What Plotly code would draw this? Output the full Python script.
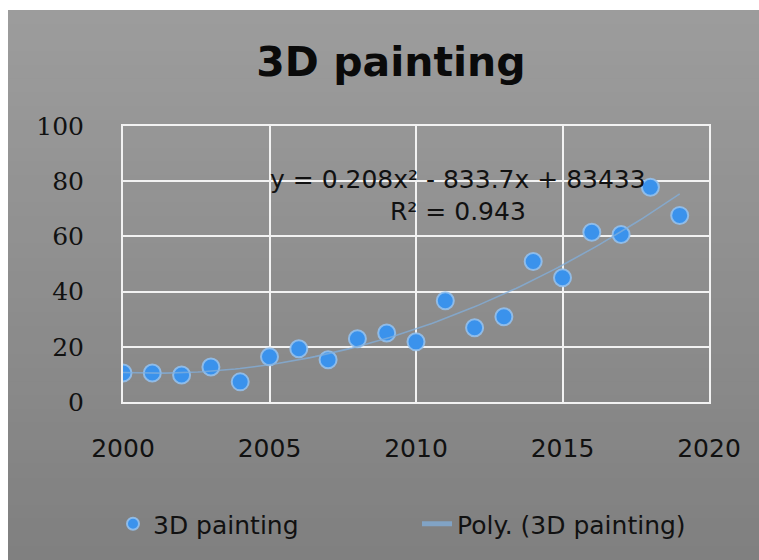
import numpy as np
import plotly.graph_objects as go

# Yearly values of the "3D painting" series
years = [2000, 2001, 2002, 2003, 2004, 2005, 2006, 2007, 2008, 2009,
         2010, 2011, 2012, 2013, 2014, 2015, 2016, 2017, 2018, 2019]
values = [10.5, 10.5, 9.8, 12.7, 7.3, 16.4, 19.3, 15.3, 22.9, 25.0,
          21.8, 36.7, 26.9, 30.9, 50.9, 45.0, 61.5, 60.7, 77.8, 67.6]

series_name = "3D painting"
trend_name = "Poly. (3D painting)"
equation_text = "y = 0.208x² - 833.7x + 83433"
r2_text = "R² = 0.943"

x_ticks = [2000, 2005, 2010, 2015, 2020]
y_ticks = [0, 20, 40, 60, 80, 100]

# Second-order polynomial trendline fitted to the series
xa = np.array(years, dtype=float)
coef = np.polyfit(xa - 2000, np.array(values), 2)
trend_x = np.linspace(xa.min(), xa.max(), 120)
trend_y = np.polyval(coef, trend_x - 2000)

W, H = 759, 560
L, R, T, B = 123, 50, 126, 158
plot_w = W - L - R
plot_h = H - T - B


def px_to_paper_x(px):
    return (px - L) / plot_w


def py_to_paper_y(py):
    return (H - B - py) / plot_h


fig = go.Figure()

fig.add_trace(go.Scatter(
    x=years, y=values, mode="markers", name=series_name,
    marker=dict(size=17, color="#3a92ec",
                line=dict(color="rgba(150,195,240,0.85)", width=2)),
))
fig.add_trace(go.Scatter(
    x=trend_x, y=trend_y, mode="lines", name=trend_name,
    line=dict(color="rgba(130,175,220,0.75)", width=1.6),
))

# Vertical grey gradient behind the whole chart area
shapes = []
n_bands = 40
top_px, bottom_px, left_px = 10, H, 8
c_top, c_bot = np.array([157, 157, 157]), np.array([128, 128, 128])
for i in range(n_bands):
    y0 = top_px + (bottom_px - top_px) * i / n_bands
    y1 = top_px + (bottom_px - top_px) * (i + 1) / n_bands + 3
    c = (c_top + (c_bot - c_top) * (i + 0.5) / n_bands).astype(int)
    shapes.append(dict(
        type="rect", xref="paper", yref="paper", layer="below",
        x0=px_to_paper_x(left_px), x1=px_to_paper_x(W + 2),
        y0=py_to_paper_y(min(y1, H + 2)), y1=py_to_paper_y(y0),
        fillcolor=f"rgb({c[0]},{c[1]},{c[2]})", line=dict(width=0),
    ))

fig.update_layout(
    width=W, height=H,
    margin=dict(l=L, r=R, t=T, b=B, pad=0),
    paper_bgcolor="white",
    plot_bgcolor="rgba(0,0,0,0)",
    shapes=shapes,
    title=dict(
        text="<b>3D painting</b>",
        font=dict(family="DejaVu Sans", size=41, color="#0a0a0a"),
        x=391 / W, xanchor="center", xref="container",
        y=1 - 62 / H, yanchor="middle", yref="container",
    ),
    showlegend=True,
    legend=dict(
        orientation="h",
        x=px_to_paper_x(113), xanchor="left",
        y=py_to_paper_y(524), yanchor="middle",
        bgcolor="rgba(0,0,0,0)",
        font=dict(family="DejaVu Sans", size=25, color="#111111"),
        entrywidth=259, entrywidthmode="pixels",
        itemsizing="constant",
    ),
    annotations=[
        dict(x=2011.43, y=80.7, xref="x", yref="y", text=equation_text,
             showarrow=False, xanchor="center", yanchor="middle",
             font=dict(family="DejaVu Sans", size=25, color="#111111")),
        dict(x=2011.43, y=69.1, xref="x", yref="y", text=r2_text,
             showarrow=False, xanchor="center", yanchor="middle",
             font=dict(family="DejaVu Sans", size=25, color="#111111")),
    ],
)

fig.update_xaxes(
    range=[2000, 2020], tickvals=x_ticks, ticktext=[str(v) for v in x_ticks],
    showgrid=True, gridcolor="#f2f2f2", gridwidth=2,
    showline=True, linecolor="#f2f2f2", linewidth=2, mirror=True,
    zeroline=False, ticks="", ticklabelstandoff=23,
    tickfont=dict(family="DejaVu Sans", size=25, color="#111111"),
)
fig.update_yaxes(
    range=[0, 100], tickvals=y_ticks, ticktext=[str(v) for v in y_ticks],
    showgrid=True, gridcolor="#f2f2f2", gridwidth=2,
    showline=True, linecolor="#f2f2f2", linewidth=2, mirror=True,
    zeroline=False, ticks="", ticklabelstandoff=32,
    tickfont=dict(family="DejaVu Serif", size=25, color="#111111"),
)

fig.write_html("out.html")
